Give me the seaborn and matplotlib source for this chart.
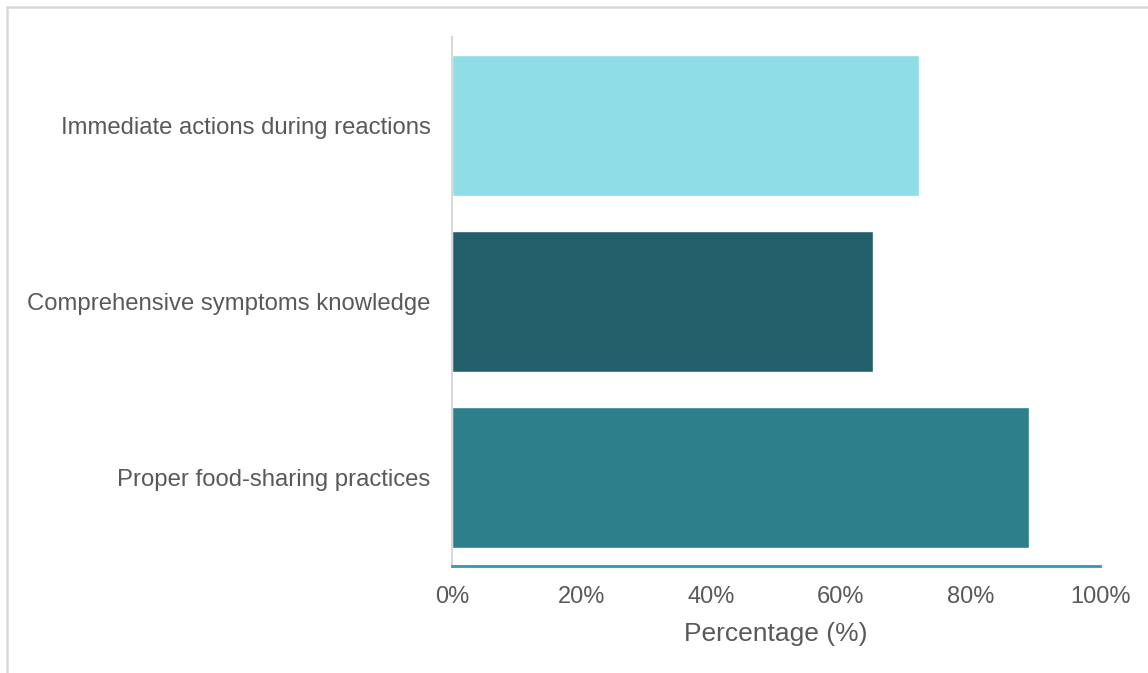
import matplotlib
matplotlib.use("Agg")
import matplotlib.pyplot as plt
import seaborn as sns
import pandas as pd
from matplotlib.lines import Line2D
from matplotlib.ticker import PercentFormatter

categories = [
    "Immediate actions during reactions",
    "Comprehensive symptoms knowledge",
    "Proper food-sharing practices",
]
percentages = [72.1, 65.0, 89.0]
bar_colors = ["#8fdde6", "#235f6a", "#2d7f8c"]
x_ticks = [0, 20, 40, 60, 80, 100]

sns.set_theme(style="white")
plt.rcParams["font.family"] = ["Liberation Sans", "DejaVu Sans"]

df = pd.DataFrame({"category": categories, "pct": percentages})

fig = plt.figure(figsize=(11.48, 6.73), dpi=100)
ax = fig.add_axes([452 / 1148, 1 - 566 / 673, 648 / 1148, (566 - 37) / 673])

sns.barplot(data=df, x="pct", y="category", hue="category",
            palette=bar_colors, width=0.8, legend=False, ax=ax,
            saturation=1)

ax.set_xlim(0, 100)
ax.set_ylim(2.5, -0.5)
ax.set_xticks(x_ticks)
ax.xaxis.set_major_formatter(PercentFormatter(decimals=0))
ax.set_xlabel("Percentage (%)", fontsize=19, color="#595959", labelpad=10)
ax.set_ylabel("")
ax.tick_params(axis="x", length=0, pad=14.5, labelsize=17, labelcolor="#595959")
ax.tick_params(axis="y", length=0, pad=15.5, labelsize=17.2, labelcolor="#595959")

for side in ["top", "right"]:
    ax.spines[side].set_visible(False)
ax.spines["left"].set_color("#d9d9d9")
ax.spines["left"].set_linewidth(1.5)
ax.spines["bottom"].set_color("#2a9db0")
ax.spines["bottom"].set_linewidth(2)

# light frame around the chart area (top and left edges)
fig.add_artist(Line2D([7 / 1148, 1.0], [1 - 7 / 673, 1 - 7 / 673],
                      transform=fig.transFigure, color="#d9d9d9", lw=1.8))
fig.add_artist(Line2D([7 / 1148, 7 / 1148], [0.0, 1 - 7 / 673],
                      transform=fig.transFigure, color="#d9d9d9", lw=1.8))

fig.savefig("out.png", dpi=100, facecolor="white")
